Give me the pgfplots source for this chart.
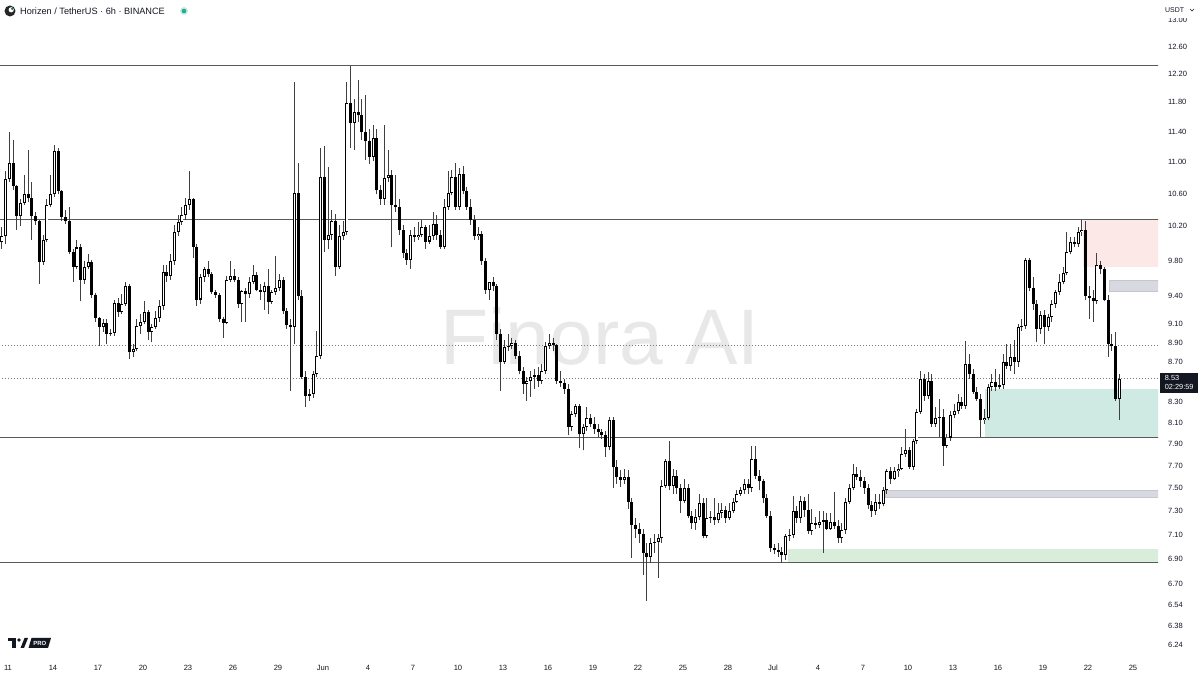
\documentclass[border=0pt]{standalone}
\usepackage{pgfplots}
\pgfplotsset{compat=1.18}
\usepackage{pgfplotstable}
\usepackage{fontspec}
\setmainfont{Liberation Sans}
\definecolor{txt}{RGB}{19,23,34}
\definecolor{pinkz}{RGB}{252,232,230}
\definecolor{grayz}{RGB}{216,217,224}
\definecolor{grayzl}{RGB}{196,198,206}
\definecolor{tealz}{RGB}{207,234,227}
\definecolor{greenz}{RGB}{216,238,219}
\definecolor{hline}{RGB}{90,90,90}
\definecolor{dotc}{RGB}{120,123,134}
\definecolor{tvgreen}{RGB}{34,171,148}
\definecolor{wm}{RGB}{232,232,232}

\pgfplotstableread{
o h l c
10.01 10.19 9.93 10.08
10.08 10.88 9.99 10.78
10.78 11.39 10.75 10.99
10.99 11.29 10.65 10.69
10.69 10.71 10.16 10.32
10.32 10.53 10.20 10.49
10.49 10.84 10.46 10.59
10.59 11.16 10.50 10.54
10.54 10.74 10.04 10.32
10.32 10.37 10.22 10.26
10.26 10.28 9.53 9.78
9.78 10.10 9.75 10.04
10.04 10.53 10.02 10.46
10.46 10.84 10.44 10.59
10.59 11.23 10.56 11.14
11.14 11.19 10.59 10.63
10.63 10.65 10.26 10.31
10.31 10.40 10.23 10.26
10.26 10.43 9.87 9.90
9.90 9.93 9.56 9.73
9.73 10.04 9.70 9.95
9.95 9.99 9.34 9.58
9.58 9.79 9.53 9.73
9.73 9.87 9.70 9.78
9.78 9.81 9.38 9.41
9.41 9.43 9.12 9.16
9.16 9.17 8.86 9.06
9.06 9.15 9.01 9.11
9.11 9.15 8.88 8.99
8.99 9.04 8.97 9.00
9.00 9.36 8.97 9.32
9.32 9.38 9.17 9.22
9.22 9.42 9.20 9.31
9.31 9.55 9.29 9.51
9.51 9.53 8.73 8.80
8.80 8.88 8.75 8.83
8.83 9.15 8.81 9.07
9.07 9.20 8.99 9.12
9.12 9.34 9.09 9.22
9.22 9.25 8.93 9.01
9.01 9.09 8.90 9.06
9.06 9.23 9.04 9.16
9.16 9.36 9.12 9.29
9.29 9.75 9.25 9.67
9.67 9.75 9.56 9.62
9.62 9.87 9.58 9.79
9.79 10.22 9.75 10.13
10.13 10.34 10.08 10.25
10.25 10.43 10.22 10.34
10.34 10.55 10.28 10.46
10.46 10.88 10.40 10.53
10.53 10.55 9.83 9.96
9.96 9.99 9.29 9.36
9.36 9.64 9.31 9.61
9.61 9.72 9.56 9.70
9.70 9.79 9.61 9.64
9.64 9.67 9.42 9.44
9.44 9.47 9.38 9.41
9.41 9.43 9.12 9.15
9.15 9.17 8.95 9.11
9.11 9.62 9.09 9.58
9.58 9.79 9.55 9.62
9.62 9.70 9.55 9.58
9.58 9.61 9.27 9.31
9.31 9.47 9.12 9.45
9.45 9.49 9.12 9.42
9.42 9.61 9.38 9.56
9.56 9.75 9.53 9.63
9.63 9.67 9.45 9.47
9.47 9.53 9.36 9.44
9.44 9.55 9.25 9.51
9.51 9.70 9.20 9.33
9.33 9.47 9.31 9.44
9.44 9.85 9.41 9.49
9.49 9.64 9.45 9.58
9.58 9.61 9.20 9.23
9.23 9.27 9.04 9.08
9.08 9.15 8.41 9.06
9.06 12.09 8.88 10.61
10.61 10.99 9.36 9.40
9.40 9.47 8.53 8.55
8.55 8.61 8.25 8.36
8.36 8.43 8.31 8.38
8.38 8.61 8.34 8.58
8.58 9.02 8.55 8.76
8.76 11.19 8.73 10.81
10.81 11.21 9.90 10.04
10.04 10.94 9.93 10.10
10.10 10.40 10.04 10.26
10.26 10.35 9.62 9.73
9.73 10.22 9.70 10.08
10.08 10.26 10.04 10.13
10.13 12.09 10.10 11.79
11.79 12.32 11.19 11.52
11.52 11.84 11.16 11.67
11.67 12.12 11.53 11.62
11.62 11.84 11.29 11.39
11.39 11.90 11.03 11.27
11.27 11.43 10.97 11.07
11.07 11.49 11.01 11.32
11.32 11.43 10.59 10.65
10.65 10.71 10.46 10.53
10.53 11.49 10.46 10.80
10.80 11.16 10.75 10.84
10.84 10.90 9.95 10.46
10.46 10.84 10.38 10.43
10.43 10.53 10.10 10.16
10.16 10.22 9.83 9.89
9.89 9.93 9.75 9.81
9.81 10.16 9.70 10.10
10.10 10.19 10.02 10.07
10.07 10.25 10.04 10.10
10.10 10.28 10.07 10.19
10.19 10.22 9.93 10.02
10.02 10.22 9.99 10.08
10.08 10.37 10.04 10.23
10.23 10.34 10.04 10.10
10.10 10.16 9.93 9.96
9.96 10.53 9.93 10.44
10.44 10.88 10.40 10.61
10.61 10.90 10.58 10.81
10.81 10.99 10.40 10.44
10.44 10.93 10.40 10.85
10.85 10.95 10.59 10.63
10.63 10.68 10.40 10.44
10.44 10.53 10.22 10.28
10.28 10.34 10.04 10.08
10.08 10.19 10.04 10.11
10.11 10.14 9.75 9.79
9.79 9.83 9.42 9.47
9.47 9.56 9.36 9.55
9.55 9.61 9.45 9.51
9.51 9.53 8.93 8.99
8.99 9.04 8.41 8.70
8.70 8.93 8.68 8.85
8.85 8.99 8.81 8.86
8.86 8.95 8.83 8.89
8.89 8.93 8.73 8.76
8.76 8.81 8.58 8.61
8.61 8.65 8.38 8.48
8.48 8.55 8.31 8.51
8.51 8.61 8.35 8.55
8.55 8.63 8.43 8.57
8.57 8.65 8.45 8.51
8.51 8.68 8.48 8.61
8.61 8.90 8.58 8.86
8.86 8.99 8.83 8.89
8.89 8.95 8.81 8.87
8.87 8.88 8.48 8.51
8.51 8.61 8.45 8.49
8.49 8.53 8.38 8.43
8.43 8.48 7.98 8.06
8.06 8.21 8.02 8.18
8.18 8.28 8.15 8.26
8.26 8.28 7.86 7.99
7.99 8.09 7.84 8.06
8.06 8.25 8.02 8.14
8.14 8.18 8.06 8.09
8.09 8.15 7.99 8.04
8.04 8.09 7.97 8.01
8.01 8.04 7.95 7.98
7.98 8.02 7.78 7.87
7.87 8.15 7.84 8.12
8.12 8.15 7.50 7.69
7.69 7.75 7.54 7.60
7.60 7.66 7.51 7.57
7.57 7.67 7.54 7.60
7.60 7.66 7.32 7.38
7.38 7.41 6.91 7.18
7.18 7.24 7.07 7.15
7.15 7.20 7.03 7.11
7.11 7.15 6.77 6.95
6.95 7.03 6.57 6.92
6.92 7.07 6.87 7.03
7.03 7.11 6.95 7.04
7.04 7.11 6.75 7.07
7.07 7.57 7.03 7.52
7.52 7.76 7.50 7.74
7.74 7.93 7.48 7.52
7.52 7.67 7.45 7.61
7.61 7.66 7.45 7.50
7.50 7.54 7.28 7.39
7.39 7.58 7.37 7.50
7.50 7.54 7.24 7.26
7.26 7.30 7.15 7.20
7.20 7.32 7.14 7.25
7.25 7.45 7.22 7.37
7.37 7.41 7.07 7.09
7.09 7.41 7.07 7.24
7.24 7.30 7.20 7.25
7.25 7.41 7.18 7.22
7.22 7.37 7.20 7.28
7.28 7.37 7.24 7.31
7.31 7.34 7.20 7.24
7.24 7.37 7.22 7.30
7.30 7.41 7.28 7.38
7.38 7.48 7.37 7.45
7.45 7.51 7.43 7.48
7.48 7.58 7.45 7.54
7.54 7.58 7.45 7.50
7.50 7.88 7.47 7.76
7.76 7.88 7.58 7.61
7.61 7.66 7.48 7.56
7.56 7.58 7.37 7.41
7.41 7.45 7.24 7.26
7.26 7.30 6.96 6.99
6.99 7.02 6.94 6.97
6.97 7.03 6.92 6.96
6.96 7.00 6.87 6.93
6.93 7.11 6.89 7.09
7.09 7.15 7.05 7.10
7.10 7.43 7.07 7.30
7.30 7.34 7.20 7.24
7.24 7.43 7.20 7.39
7.39 7.42 7.25 7.31
7.31 7.45 7.11 7.13
7.13 7.32 7.10 7.20
7.20 7.25 7.15 7.18
7.18 7.30 7.16 7.21
7.21 7.30 6.95 7.22
7.22 7.28 7.14 7.15
7.15 7.28 7.14 7.21
7.21 7.47 7.15 7.17
7.17 7.22 7.03 7.07
7.07 7.20 7.03 7.14
7.14 7.41 7.11 7.38
7.38 7.54 7.36 7.50
7.50 7.72 7.48 7.63
7.63 7.69 7.57 7.60
7.60 7.66 7.51 7.56
7.56 7.60 7.45 7.50
7.50 7.54 7.32 7.35
7.35 7.39 7.25 7.30
7.30 7.45 7.27 7.38
7.38 7.45 7.32 7.36
7.36 7.51 7.34 7.48
7.48 7.67 7.45 7.65
7.65 7.69 7.54 7.58
7.58 7.69 7.57 7.65
7.65 7.72 7.60 7.67
7.67 7.87 7.66 7.81
7.81 8.04 7.78 7.84
7.84 7.87 7.67 7.69
7.69 7.95 7.66 7.93
7.93 8.23 7.90 8.20
8.20 8.61 8.18 8.53
8.53 8.58 8.31 8.36
8.36 8.60 8.33 8.51
8.51 8.58 8.06 8.09
8.09 8.25 8.06 8.14
8.14 8.33 7.97 8.15
8.15 8.23 7.70 7.88
7.88 7.99 7.86 7.96
7.96 8.21 7.93 8.17
8.17 8.28 8.14 8.21
8.21 8.38 8.18 8.30
8.30 8.35 8.23 8.26
8.26 8.91 8.23 8.68
8.68 8.78 8.53 8.58
8.58 8.63 8.38 8.40
8.40 8.45 8.31 8.33
8.33 8.38 7.97 8.12
8.12 8.23 8.09 8.14
8.14 8.48 8.12 8.45
8.45 8.58 8.41 8.50
8.50 8.63 8.41 8.45
8.45 8.58 8.43 8.47
8.47 8.78 8.43 8.70
8.70 8.88 8.63 8.66
8.66 8.88 8.61 8.75
8.75 8.93 8.58 8.70
8.70 9.09 8.65 9.06
9.06 9.15 9.02 9.07
9.07 9.83 9.04 9.81
9.81 9.83 9.45 9.49
9.49 9.61 9.25 9.31
9.31 9.36 8.90 9.04
9.04 9.23 8.99 9.19
9.19 9.25 8.88 9.06
9.06 9.20 9.02 9.17
9.17 9.36 9.12 9.31
9.31 9.47 9.27 9.44
9.44 9.64 9.41 9.56
9.56 9.72 9.53 9.66
9.66 10.13 9.63 9.90
9.90 10.07 9.87 10.01
10.01 10.07 9.95 9.99
9.99 10.19 9.95 10.13
10.13 10.28 10.09 10.16
10.16 10.26 9.36 9.40
9.40 9.51 9.15 9.38
9.38 9.47 9.12 9.34
9.34 9.89 9.31 9.75
9.75 9.79 9.64 9.70
9.70 9.72 9.34 9.36
9.36 9.41 8.75 8.88
8.88 8.99 8.81 8.86
8.86 9.01 8.31 8.33
8.33 8.58 8.12 8.53
}\candles

\pgfplotstablegetrowsof{\candles}%
\pgfmathtruncatemacro\lastrow{\pgfplotsretval-1}%
\def\wicklist{}%
\def\bodylist{}%
\def\whitelist{}%
\pgfplotsforeachungrouped \i in {0,...,\lastrow}{%
  \pgfplotstablegetelem{\i}{o}\of\candles\let\vo\pgfplotsretval
  \pgfplotstablegetelem{\i}{h}\of\candles\let\vh\pgfplotsretval
  \pgfplotstablegetelem{\i}{l}\of\candles\let\vl\pgfplotsretval
  \pgfplotstablegetelem{\i}{c}\of\candles\let\vc\pgfplotsretval
  \pgfmathsetmacro\vx{0.25*\i-0.4}%
  \xdef\wicklist{\wicklist (\vx,\vl)(\vx,\vh)(\vx,nan)}%
  \ifdim\vc pt<\vo pt
    \let\cbot\vc\let\ctop\vo\def\isup{0}%
  \else
    \let\cbot\vo\let\ctop\vc\def\isup{1}%
  \fi
  \pgfmathsetmacro\mintop{\cbot*1.0015}%
  \ifdim\ctop pt<\mintop pt\relax\let\ctop\mintop\fi
  \xdef\bodylist{\bodylist (\vx,\cbot)(\vx,\ctop)(\vx,nan)}%
  \if1\isup
    \pgfmathsetmacro\wb{\cbot*1.0012}%
    \pgfmathsetmacro\wt{\ctop/1.0012}%
    \ifdim\wb pt<\wt pt\relax
      \xdef\whitelist{\whitelist (\vx,\wb)(\vx,\wt)(\vx,nan)}%
    \fi
  \fi
}%

\begin{document}
\begin{tikzpicture}
\useasboundingbox (0,0) rectangle (1200bp,675bp);
\fill[white] (0,0) rectangle (1200bp,675bp);
% watermark
\node[text=wm, font=\fontsize{79}{79}\selectfont] at (600bp,339bp) {Finora AI};
\begin{axis}[
  at={(0bp,18bp)}, anchor=south west,
  width=1158bp, height=657bp, scale only axis,
  xmin=-0.533, xmax=76.67,
  ymode=log, ymin=6.150, ymax=13.309,
  axis line style={draw=none},
  major tick length=0pt,
  xtick={0,3,6,9,12,15,18,21,24,27,30,33,36,39,42,45,48,51,54,57,60,63,66,69,72,75},
  xticklabels={11,14,17,20,23,26,29,Jun,4,7,10,13,16,19,22,25,28,Jul,4,7,10,13,16,19,22,25},
  ytick={6.24,6.38,6.54,6.70,6.90,7.10,7.30,7.50,7.70,7.90,8.10,8.30,8.70,8.90,9.10,9.40,9.80,10.20,10.60,11.00,11.40,11.80,12.20,12.60,13.00},
  yticklabels={6.24,6.38,6.54,6.70,6.90,7.10,7.30,7.50,7.70,7.90,8.10,8.30,8.70,8.90,9.10,9.40,9.80,10.20,10.60,11.00,11.40,11.80,12.20,12.60,13.00},
  yticklabel pos=right,
  tick label style={font=\fontsize{7.6}{9}\selectfont, text=txt},
  xticklabel style={yshift=-4.5bp},
  yticklabel style={xshift=6.5bp},
  unbounded coords=jump,
  clip=true,
  no markers,
]
% zones
\addplot[fill=pinkz, draw=none, forget plot] coordinates {(71.67,10.28)(80,10.28)(80,9.72)(71.67,9.72)} -- cycle;
\addplot[fill=grayz, draw=grayzl, line width=0.8bp, forget plot] coordinates {(73.4,9.57)(80,9.57)(80,9.45)(73.4,9.45)} -- cycle;
\addplot[fill=tealz, draw=none, forget plot] coordinates {(65.13,8.43)(80,8.43)(80,7.96)(65.13,7.96)} -- cycle;
\addplot[fill=grayz, draw=grayzl, line width=0.8bp, forget plot] coordinates {(58.47,7.48)(80,7.48)(80,7.42)(58.47,7.42)} -- cycle;
\addplot[fill=greenz, draw=none, forget plot] coordinates {(52.0,6.98)(80,6.98)(80,6.88)(52.0,6.88)} -- cycle;
% horizontal levels
\addplot[hline, line width=1.1bp, forget plot] coordinates {(-1,12.32)(80,12.32)};
\addplot[hline, line width=1.1bp, forget plot] coordinates {(-1,10.28)(80,10.28)};
\addplot[hline, line width=1.1bp, forget plot] coordinates {(-1,7.96)(80,7.96)};
\addplot[hline, line width=1.1bp, forget plot] coordinates {(-1,6.87)(80,6.87)};
\addplot[dotc, line width=0.7bp, dash pattern=on 1bp off 2bp, forget plot] coordinates {(-1,8.87)(80,8.87)};
\addplot[dotc, line width=0.7bp, dash pattern=on 1bp off 2bp, forget plot] coordinates {(-1,8.53)(80,8.53)};
% candles
\edef\tmp{\noexpand\addplot[black!75, line width=1bp, forget plot] coordinates {\wicklist};}\tmp
\edef\tmp{\noexpand\addplot[black, line width=3bp, forget plot] coordinates {\bodylist};}\tmp
\edef\tmp{\noexpand\addplot[white, line width=1.2bp, forget plot] coordinates {\whitelist};}\tmp
\end{axis}
% title
\begin{scope}
\fill[black!85] (10bp,664bp) circle (5.5bp);
\fill[white] (11.2bp,665.2bp) circle (2.6bp);
\fill[tvgreen!70!black] (12.2bp,666.2bp) circle (1.3bp);
\end{scope}
\node[anchor=west, text=txt, font=\fontsize{9.2}{11}\selectfont, inner sep=0pt] at (20bp,664bp) {Horizen / TetherUS · 6h · BINANCE};
\fill[tvgreen!25] (184bp,664bp) circle (4bp);
\fill[tvgreen] (184bp,664bp) circle (2.3bp);
% TV PRO logo
\fill[txt] (8bp,37bp) rectangle (16bp,33.5bp);
\fill[txt] (12bp,33.5bp) rectangle (15.5bp,27bp);
\fill[txt] (19bp,35bp) circle (1.8bp);
\fill[txt] (20.5bp,27bp) -- (24.5bp,37bp) -- (28bp,37bp) -- (24bp,27bp) -- cycle;
\fill[txt] (28.5bp,27bp) -- (31.5bp,37bp) -- (51bp,37bp) -- (48bp,27bp) -- cycle;
\node[text=white, font=\fontsize{6}{6}\bfseries\selectfont, inner sep=0pt] at (39.8bp,32bp) {PRO};
% price scale top
\fill[white] (1159bp,656.5bp) rectangle (1200bp,675bp);
\node[anchor=west, text=txt, font=\fontsize{7}{8}\selectfont, inner sep=0pt] at (1165bp,665bp) {USDT};
\draw[txt, line width=0.6bp] (1190bp,666bp) -- (1192bp,664bp) -- (1194bp,666bp);
% current price label
\node[anchor=north west, fill=txt, text=white, font=\fontsize{7.4}{9}\selectfont, inner xsep=2.5bp, inner ysep=3bp, align=left, minimum width=38bp] at (1160bp,302.5bp) {8.53\\02:29:59};
\end{tikzpicture}
\end{document}
